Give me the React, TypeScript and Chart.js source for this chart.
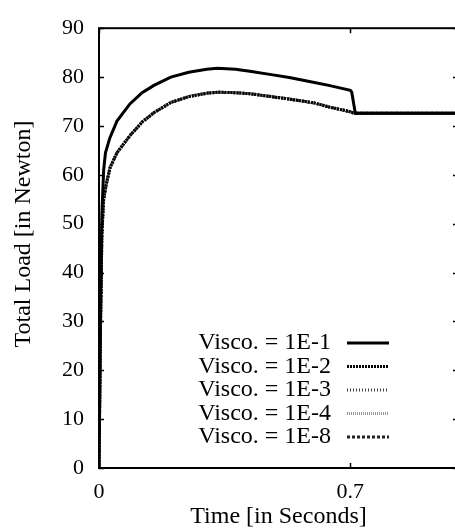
import React, { useEffect, useRef } from "react";
import { Chart, registerables } from "chart.js";

Chart.register(...registerables);

const seriesLabels = ["Visco. = 1E-1", "Visco. = 1E-2", "Visco. = 1E-3", "Visco. = 1E-4", "Visco. = 1E-8"];

const timeHigh = [0, 0.004, 0.008, 0.013, 0.018, 0.03, 0.05, 0.086, 0.12, 0.153, 0.2, 0.25, 0.3, 0.33, 0.38, 0.42, 0.48, 0.53, 0.6, 0.64, 0.7, 0.704, 0.714, 1.0];
const loadHigh = [0, 30, 52, 61, 64.5, 67.5, 71, 74.5, 76.8, 78.3, 80, 81, 81.6, 81.8, 81.6, 81.2, 80.5, 79.9, 78.9, 78.3, 77.3, 76.9, 72.6, 72.6];

const timeLow = [0, 0.004, 0.008, 0.013, 0.02, 0.031, 0.05, 0.086, 0.12, 0.153, 0.2, 0.25, 0.3, 0.33, 0.38, 0.42, 0.48, 0.53, 0.6, 0.64, 0.7, 0.71, 1.0];
const load1E2 = [0, 28, 48, 55, 58, 61.5, 64.5, 68, 70.8, 72.7, 74.8, 76, 76.7, 76.9, 76.8, 76.6, 76, 75.5, 74.7, 73.9, 72.9, 72.6, 72.6];
const load1E3 = [0, 28, 48, 55, 58, 61.5, 64.5, 68, 70.8, 72.7, 74.8, 76, 76.7, 76.9, 76.8, 76.6, 76, 75.5, 74.7, 73.9, 72.9, 72.6, 72.6];
const load1E4 = [0, 28, 48, 55, 58, 61.5, 64.5, 68, 70.8, 72.7, 74.8, 76, 76.7, 76.9, 76.8, 76.6, 76, 75.5, 74.7, 73.9, 72.9, 72.6, 72.6];
const load1E8 = [0, 28, 48, 55, 58, 61.5, 64.5, 68, 70.8, 72.7, 74.8, 76, 76.7, 76.9, 76.8, 76.6, 76, 75.5, 74.7, 73.9, 72.9, 72.6, 72.6];

const xTickValues = [0, 0.7];
const yTickValues = [0, 10, 20, 30, 40, 50, 60, 70, 80, 90];
const yTitle = "Total Load [in Newton]";
const xTitle = "Time [in Seconds]";

const FONT = "'Liberation Serif', 'Times New Roman', serif";

const toPoints = (xs: number[], ys: number[]) => xs.map((x, i) => ({ x, y: ys[i] }));

const framePlugin = {
  id: "frame",
  afterDraw(chart: any) {
    const { ctx, chartArea: a, scales } = chart;
    ctx.save();
    ctx.strokeStyle = "#000";
    ctx.lineWidth = 2;
    ctx.strokeRect(a.left, a.top, a.right - a.left, a.bottom - a.top);
    ctx.lineWidth = 1.5;
    const len = 5;
    ctx.beginPath();
    yTickValues.forEach((v) => {
      const y = Math.round(scales.y.getPixelForValue(v)) + 0.5;
      ctx.moveTo(a.left, y);
      ctx.lineTo(a.left + len, y);
      ctx.moveTo(a.right, y);
      ctx.lineTo(a.right - len, y);
    });
    xTickValues.forEach((v) => {
      const x = Math.round(scales.x.getPixelForValue(v)) + 0.5;
      ctx.moveTo(x, a.bottom);
      ctx.lineTo(x, a.bottom - len);
      ctx.moveTo(x, a.top);
      ctx.lineTo(x, a.top + len);
    });
    ctx.stroke();

    // y axis title
    ctx.save();
    ctx.translate(30, 234);
    ctx.rotate(-Math.PI / 2);
    ctx.font = "24px " + FONT;
    ctx.fillStyle = "#000";
    ctx.textAlign = "center";
    ctx.textBaseline = "alphabetic";
    ctx.fillText(yTitle, 0, 0);
    ctx.restore();

    // legend
    const textRight = 331;
    const sampleLeft = 347;
    const sampleRight = 389;
    const rowY = [343, 366.5, 390, 413.5, 437];
    ctx.font = "24px " + FONT;
    ctx.textAlign = "right";
    ctx.textBaseline = "alphabetic";
    chart.data.datasets.forEach((ds: any, i: number) => {
      ctx.fillStyle = "#000";
      ctx.fillText(ds.label, textRight, rowY[i] + 6);
      ctx.beginPath();
      ctx.strokeStyle = ds.borderColor;
      ctx.lineWidth = ds.borderWidth;
      ctx.setLineDash(ds.borderDash || []);
      ctx.moveTo(sampleLeft, rowY[i]);
      ctx.lineTo(sampleRight, rowY[i]);
      ctx.stroke();
      ctx.setLineDash([]);
    });
    ctx.restore();
  },
};

export default function App() {
  const ref = useRef<HTMLCanvasElement>(null);
  useEffect(() => {
    if (!ref.current) return;
    const chart = new Chart(ref.current, {
      type: "line",
      data: {
        datasets: [
          { label: seriesLabels[0], data: toPoints(timeHigh, loadHigh), borderColor: "#000", borderWidth: 3, pointRadius: 0, tension: 0 },
          { label: seriesLabels[1], data: toPoints(timeLow, load1E2), borderColor: "#000", borderWidth: 3, borderDash: [2, 1], pointRadius: 0, tension: 0 },
          { label: seriesLabels[2], data: toPoints(timeLow, load1E3), borderColor: "#444", borderWidth: 3, borderDash: [1, 2], pointRadius: 0, tension: 0 },
          { label: seriesLabels[3], data: toPoints(timeLow, load1E4), borderColor: "#999", borderWidth: 3, borderDash: [1, 1], pointRadius: 0, tension: 0 },
          { label: seriesLabels[4], data: toPoints(timeLow, load1E8), borderColor: "#222", borderWidth: 3, borderDash: [3, 2], pointRadius: 0, tension: 0 },
        ],
      },
      options: {
        animation: false,
        responsive: false,
        layout: { padding: { left: 0, top: 16, right: 12, bottom: 0 } },
        plugins: { legend: { display: false }, tooltip: { enabled: false } },
        scales: {
          x: {
            type: "linear",
            min: 0,
            max: 1,
            grid: { display: false, drawTicks: false },
            border: { display: false },
            afterBuildTicks: (s: any) => {
              s.ticks = xTickValues.map((v) => ({ value: v }));
            },
            afterFit: (s: any) => {
              s.height = 63;
            },
            ticks: {
              padding: 11,
              color: "#000",
              font: { family: FONT, size: 22 },
              maxRotation: 0,
              autoSkip: false,
              callback: (v: any) => String(v),
            },
            title: {
              display: true,
              text: xTitle,
              color: "#000",
              font: { family: FONT, size: 24 },
              padding: { top: 0, bottom: 0 },
            },
          },
          y: {
            type: "linear",
            min: 0,
            max: 90,
            grid: { display: false, drawTicks: false },
            border: { display: false },
            afterBuildTicks: (s: any) => {
              s.ticks = yTickValues.map((v) => ({ value: v }));
            },
            afterFit: (s: any) => {
              s.width = 99;
            },
            ticks: {
              padding: 15,
              color: "#000",
              font: { family: FONT, size: 22 },
              autoSkip: false,
            },
            title: { display: false },
          },
        },
      },
      plugins: [framePlugin],
    } as any);
    return () => chart.destroy();
  }, []);
  return (
    <div style={{ position: "absolute", left: 0, top: 0, width: 455, height: 531, overflow: "hidden", background: "#fff" }}>
      <canvas ref={ref} width={470} height={531} style={{ display: "block" }} />
    </div>
  );
}
